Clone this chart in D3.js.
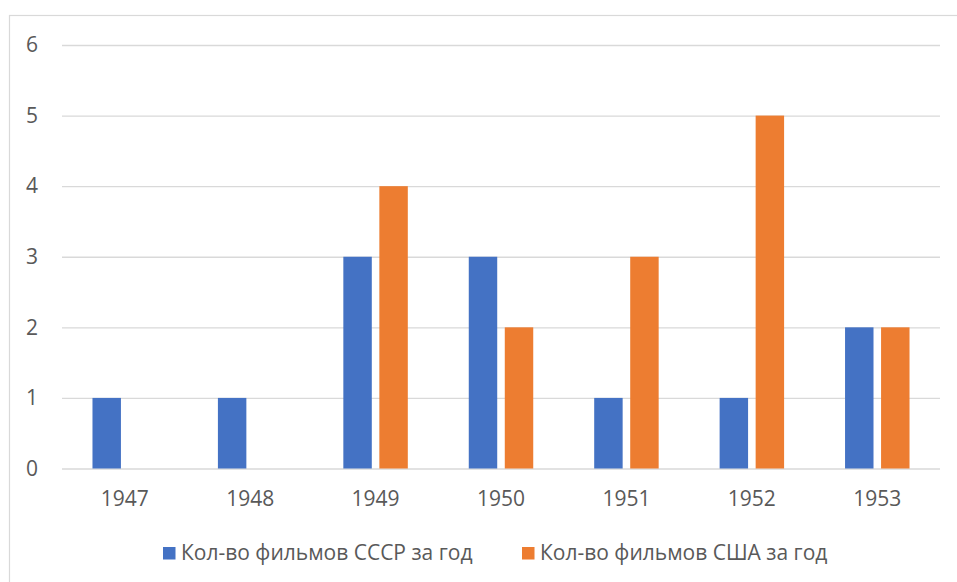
<!DOCTYPE html>
<meta charset="utf-8">
<style>
  body { margin: 0; background: #fff; }
  text { font-family: "Open Sans", sans-serif; fill: #595959; }
</style>
<script src="https://d3js.org/d3.v7.min.js"></script>
<div id="chart"></div>
<script>

// data
var years = ["1947", "1948", "1949", "1950", "1951", "1952", "1953"];
var seriesNames = ["Кол-во фильмов СССР за год", "Кол-во фильмов США за год"];
var ussrFilms = [1, 1, 3, 3, 1, 1, 2];
var usaFilms = [0, 0, 4, 2, 3, 5, 2];
var yTicks = [0, 1, 2, 3, 4, 5, 6];
var colors = ["#4472C4", "#ED7D31"];

var width = 957, height = 582;
var plot = {left: 62, right: 940, top: 45, bottom: 468.5};

var svg = d3.select("#chart")
  .append("svg")
    .attr("width", width)
    .attr("height", height);

// chart frame (only top and left edges are inside the picture)
svg.append("rect")
  .attr("x", 9.5)
  .attr("y", 15.5)
  .attr("width", 1000)
  .attr("height", 700)
  .attr("fill", "none")
  .attr("stroke", "#D9D9D9")
  .attr("stroke-width", 1.2);

var x0 = d3.scaleBand()
  .domain(years)
  .range([plot.left, plot.right])
  .paddingInner(0.486)
  .paddingOuter(0.243);

var x1 = d3.scaleBand()
  .domain([0, 1])
  .range([0, x0.bandwidth()])
  .paddingInner(0.21);

var y = d3.scaleLinear()
  .domain([0, 6])
  .range([plot.bottom, plot.top]);

// gridlines + y labels
var yAxis = svg.append("g")
  .attr("transform", "translate(" + plot.left + ",0)")
  .call(d3.axisLeft(y).tickValues(yTicks).tickFormat(d3.format("d"))
    .tickSize(-(plot.right - plot.left)).tickPadding(24));
yAxis.select(".domain").remove();
yAxis.selectAll(".tick line").attr("stroke", "#D9D9D9").attr("stroke-width", 1.3);
yAxis.selectAll(".tick text")
  .attr("font-family", "Open Sans")
  .attr("font-size", 21)
  .attr("fill", "#595959");

// x labels
var xAxis = svg.append("g")
  .attr("transform", "translate(0," + plot.bottom + ")")
  .call(d3.axisBottom(x0).tickSize(0).tickPadding(23));
xAxis.select(".domain").remove();
xAxis.selectAll(".tick text")
  .attr("font-family", "Open Sans")
  .attr("font-size", 21)
  .attr("fill", "#595959");

// bars
var rows = years.map(function(yr, i) {
  return {year: yr, values: [ussrFilms[i], usaFilms[i]]};
});

var groups = svg.append("g")
  .selectAll("g")
  .data(rows)
  .enter()
  .append("g")
    .attr("transform", function(d) { return "translate(" + x0(d.year) + ",0)"; });

groups.selectAll("rect")
  .data(function(d) { return d.values.map(function(v, k) { return {k: k, v: v}; }); })
  .enter()
  .append("rect")
    .attr("x", function(d) { return x1(d.k); })
    .attr("y", function(d) { return y(d.v); })
    .attr("width", x1.bandwidth())
    .attr("height", function(d) { return y(0) - y(d.v); })
    .attr("fill", function(d) { return colors[d.k]; });

// legend
var legendX = [163, 522];
var legend = svg.append("g")
  .selectAll("g")
  .data(seriesNames)
  .enter()
  .append("g")
    .attr("transform", function(d, i) { return "translate(" + legendX[i] + ",547)"; });

legend.append("rect")
  .attr("width", 12.5)
  .attr("height", 12.5)
  .attr("fill", function(d, i) { return colors[i]; });

legend.append("text")
  .attr("x", 18)
  .attr("y", 5.5)
  .attr("dy", "0.35em")
  .attr("font-size", 21)
  .text(function(d) { return d; });

</script>
